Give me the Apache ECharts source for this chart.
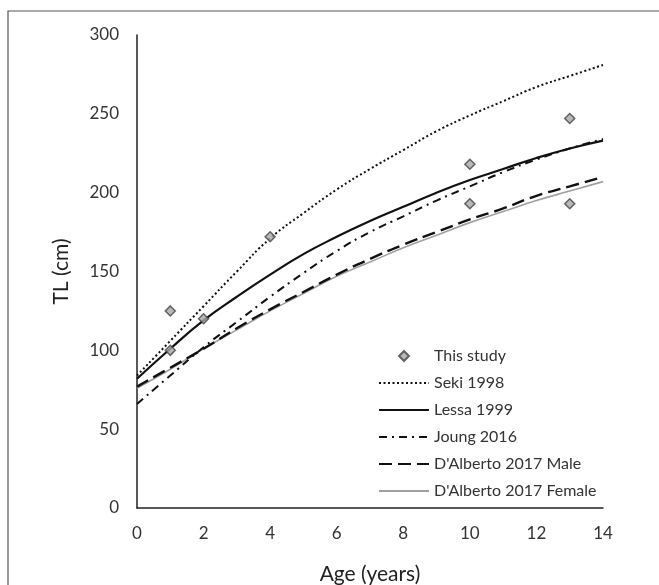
<!DOCTYPE html>
<html><head><meta charset="utf-8">
<script src="https://cdn.jsdelivr.net/npm/echarts@6/dist/echarts.min.js"></script>
<style>html,body{margin:0;padding:0;background:#fff}#c{width:659px;height:585px}</style>
</head><body><div id="c"></div>
<script>
const ages = [0,1,2,3,4,5,6,7,8,9,10,11,12,13,14];
const xTicks = [0,2,4,6,8,10,12,14];
const yTicks = [0,50,100,150,200,250,300];
const studyAge = [1,1,2,4,10,10,13,13];
const studyTL  = [125,100,120,172,218,193,247,193];
const seki1998   = [84,106,128,150,171,187,202,215,227,239,249,258,267,274,281];
const lessa1999  = [82,101,119,134,148,161,172,182,191,200,208,215,222,228,233];
const joung2016  = [66,84,102,118,134,149,163,175,185,195,204,213,221,228,234];
const dalbMale   = [77,89,101,114,126,137,148,158,167,175,183,190,198,204,210];
const dalbFemale = [76,88,101,113,125,136,147,156,165,173,181,188,195,201,207];
const names = ['This study','Seki 1998','Lessa 1999','Joung 2016',"D'Alberto 2017 Male","D'Alberto 2017 Female"];

const pair = arr => ages.map((a,i)=>[a,arr[i]]);
const font = 'Lato, "Liberation Sans", sans-serif';
const chart = echarts.init(document.getElementById('c'), null, {renderer:'canvas'});
function lineSeries(name, arr, style, z){
  return {name, type:'line', data:pair(arr), smooth:true, symbol:'none', showSymbol:false, z:z||2,
    lineStyle:style, itemStyle:{color:style.color}, emphasis:{disabled:true}, animation:false};
}
const legendData = names.map((n,i)=> i===0
  ? {name:n, icon:'path://M-7,-7M7,7M0,-5L5,0L0,5L-5,0Z'}
  : {name:n, itemStyle:{opacity:0}});
chart.setOption({
  animation:false,
  textStyle:{fontFamily:font},
  graphic:[{type:'rect', shape:{x:8,y:11,width:700,height:700}, style:{fill:'none', stroke:'#555', lineWidth:1.2}, silent:true}],
  grid:{left:137, right:56, top:35, bottom:77, containLabel:false, outerBoundsMode:'none'},
  legend:{
    orient:'vertical', left:373, top:343, itemWidth:50, itemHeight:14, itemGap:11, symbolKeepAspect:true,
    data:legendData, textStyle:{fontSize:16, color:'#333', fontFamily:font}, selectedMode:false
  },
  xAxis:{type:'value', min:0, max:14, interval:2,
    axisLine:{show:true, onZero:false, lineStyle:{color:'#222', width:1.5}},
    axisTick:{show:false}, splitLine:{show:false},
    axisLabel:{fontSize:17, color:'#333', margin:17, fontFamily:font, formatter:v=>xTicks.includes(v)?String(v):''},
    name:'Age (years)', nameLocation:'middle', nameGap:56,
    nameTextStyle:{fontSize:21, color:'#222', fontFamily:font}},
  yAxis:{type:'value', min:0, max:300, interval:50,
    axisLine:{show:true, onZero:false, lineStyle:{color:'#222', width:1.5}},
    axisTick:{show:false}, splitLine:{show:false},
    axisLabel:{fontSize:17, color:'#333', margin:18, fontFamily:font, formatter:v=>yTicks.includes(v)?String(v):''},
    name:'TL (cm)', nameLocation:'middle', nameGap:65, nameRotate:90,
    nameTextStyle:{fontSize:21, color:'#222', fontFamily:font}},
  series:[
    {name:names[0], type:'scatter', data:studyAge.map((a,i)=>[a,studyTL[i]]), symbol:'diamond', symbolSize:10, z:5,
      itemStyle:{color:'#a8a8a8', borderColor:'#444', borderWidth:1.5}, animation:false},
    lineSeries(names[1], seki1998, {color:'#111', width:2, type:[2,2.5]}),
    lineSeries(names[2], lessa1999, {color:'#111', width:2.2, type:'solid'}),
    lineSeries(names[3], joung2016, {color:'#111', width:2, type:[8,5,2,5]}),
    lineSeries(names[4], dalbMale, {color:'#111', width:2.4, type:[13,6]}),
    lineSeries(names[5], dalbFemale, {color:'#a0a0a0', width:1.6, type:'solid'}, 1)
  ]
});
</script></body></html>
